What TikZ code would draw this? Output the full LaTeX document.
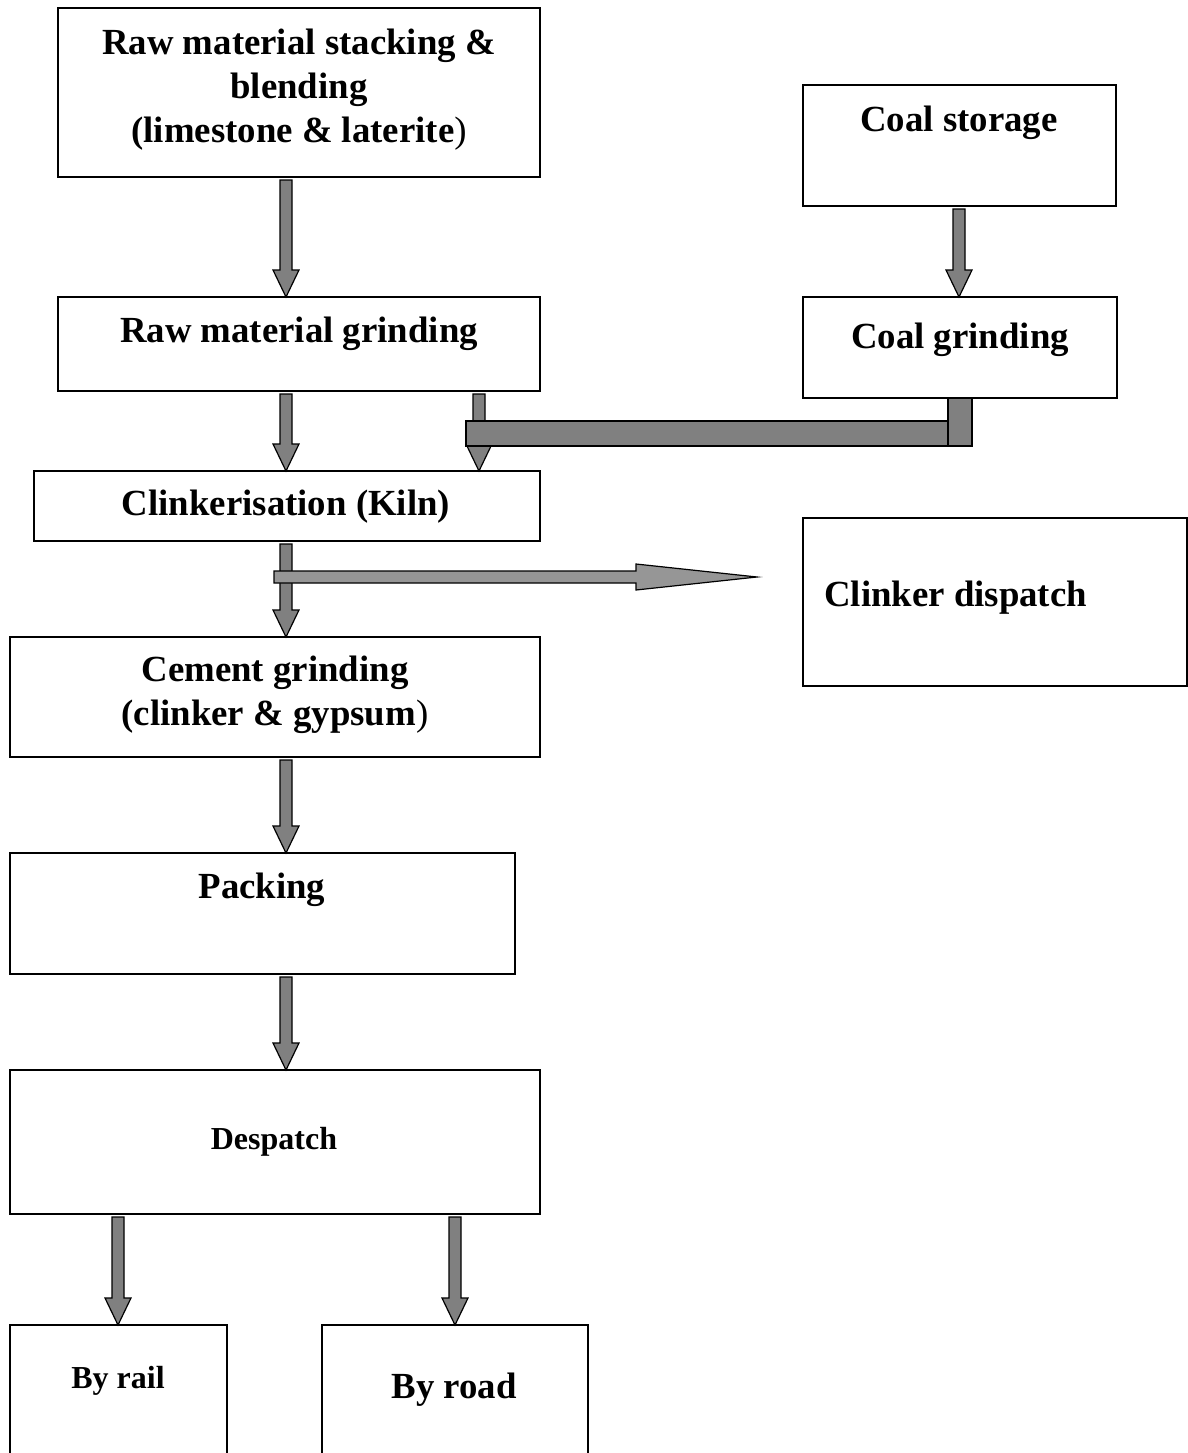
\documentclass[tikz,border=0pt]{standalone}
\usepackage{fontspec}
\setmainfont{Liberation Serif}
\usetikzlibrary{calc}
\definecolor{arrowgray}{HTML}{808080}
\definecolor{lightarrow}{HTML}{969696}
\newcommand\varrow[3]{%
  \path (#2 -| #1) ++(0,3) coordinate (vs);
  \path (#3 -| #1) coordinate (ve);
  \draw[blockarrow] ($(vs)+(-6,0)$) -- ($(ve)+(-6,-27)$) -- ($(ve)+(-13,-27)$) -- (ve) -- ($(ve)+(13,-27)$) -- ($(ve)+(6,-27)$) -- ($(vs)+(6,0)$) -- cycle;}
\begin{document}
\begin{tikzpicture}[x=1pt,y=-1pt,
  box/.style={draw,line width=1.5pt,inner sep=0pt,outer sep=0pt,anchor=north west},
  lbl/.style={inner sep=0pt,align=center,font=\fontsize{36.8}{44}\selectfont\bfseries},
  slbl/.style={inner sep=0pt,align=center,font=\fontsize{32}{38}\selectfont\bfseries},
  blockarrow/.style={draw=black,line width=1.2pt,fill=arrowgray,line join=miter}]
\useasboundingbox (0,0) rectangle (1188,1453);
\clip (0,0) rectangle (1188,1453);
% boxes
\node[box,minimum width=482pt,minimum height=169pt] (b1) at (58,8) {};
\node[box,minimum width=313pt,minimum height=121pt] (b2) at (803,85) {};
\node[box,minimum width=482pt,minimum height=94pt] (b3) at (58,297) {};
\node[box,minimum width=314pt,minimum height=101pt] (b4) at (803,297) {};
\node[box,minimum width=506pt,minimum height=70pt] (b5) at (34,471) {};
\node[box,minimum width=384pt,minimum height=168pt] (b6) at (803,518) {};
\node[box,minimum width=530pt,minimum height=120pt] (b7) at (10,637) {};
\node[box,minimum width=505pt,minimum height=121pt] (b8) at (10,853) {};
\node[box,minimum width=530pt,minimum height=144pt] (b9) at (10,1070) {};
\node[box,minimum width=217pt,minimum height=150pt] (b10) at (10,1325) {};
\node[box,minimum width=266pt,minimum height=150pt] (b11) at (322,1325) {};
% texts
\node[lbl] (t1) at (299,90) {Raw material stacking \&\\blending\\(limestone \& laterite\textmd{)}};
\node[lbl] (t2) at (959,123) {Coal storage};
\node[lbl] (t3) at (299,334) {Raw material grinding};
\node[lbl] (t4) at (960,340) {Coal grinding};
\node[lbl] (t5) at (286,507) {Clinkerisation (Kiln)};
\node[lbl,anchor=west] (t6) at (824,598) {Clinker dispatch};
\node[lbl] (t7) at (275,695) {Cement grinding\\(clinker \& gypsum\textmd{)}};
\node[lbl] (t8) at (262,890) {Packing};
\node[slbl] (t9) at (274,1142) {Despatch};
\node[slbl] (t10) at (118,1381) {By rail};
\node[lbl] (t11) at (454,1390) {By road};
% x positions
\coordinate (xa) at (286,0);
\coordinate (xb) at (479,0);
\coordinate (xc) at (959,0);
\coordinate (xr) at (118,0);
\coordinate (xd) at (455,0);
% arrows
\varrow{xa}{b1.south}{b3.north}
\varrow{xc}{b2.south}{b4.north}
\varrow{xa}{b3.south}{b5.north}
\varrow{xb}{b3.south}{b5.north}
\draw[blockarrow] ($(b5.north -| xb)+(-13,-50)$) rectangle ($(b4.south -| xc)+(-11,48)$);
\draw[blockarrow] ($(b4.south -| xc)+(-11,0)$) rectangle ($(b4.south -| xc)+(13,48)$);
\varrow{xa}{b5.south}{b7.north}
\path ($(b5.south -| xa)+(-12,36)$) coordinate (hs);
\path ($(hs -| b6.west)+(-46,0)$) coordinate (he);
\draw[blockarrow,fill=lightarrow] ($(hs)+(0,-6)$) -- ($(he)+(-121,-6)$) -- ($(he)+(-121,-13)$) -- (he) -- ($(he)+(-121,13)$) -- ($(he)+(-121,6)$) -- ($(hs)+(0,6)$) -- cycle;
\varrow{xa}{b7.south}{b8.north}
\varrow{xa}{b8.south}{b9.north}
\varrow{xr}{b9.south}{b10.north}
\varrow{xd}{b9.south}{b11.north}
\end{tikzpicture}
\end{document}
